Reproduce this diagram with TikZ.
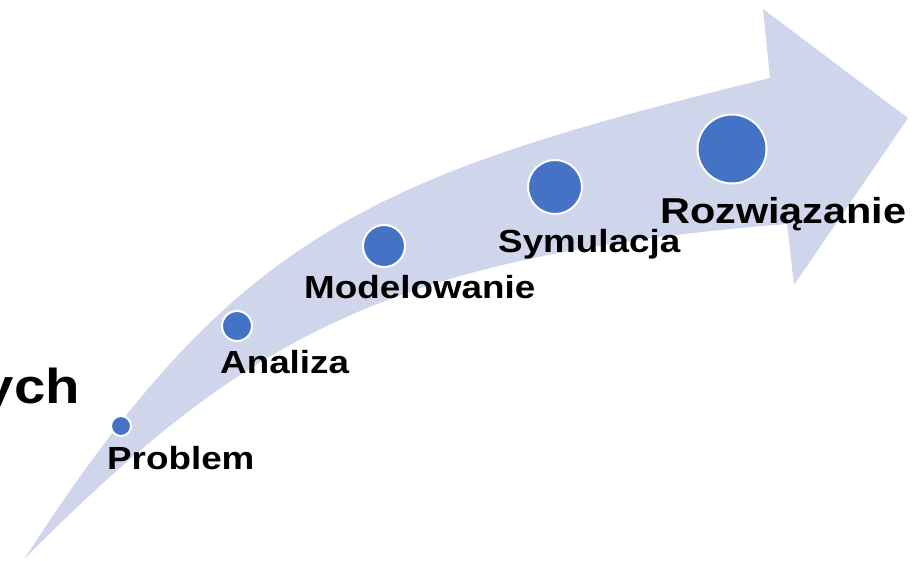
\documentclass[tikz,border=0pt]{standalone}
\usepackage{fontspec}
\setmainfont{Liberation Sans}[FakeStretch=1.15]
\definecolor{bandfill}{HTML}{CFD5EA}
\definecolor{dotfill}{HTML}{4472C4}
\begin{document}
\begin{tikzpicture}[x=1pt,y=-1pt,
  dotnode/.style={circle,fill=dotfill,draw=white,line width=2pt,inner sep=0pt},
  lab/.style={anchor=base west,inner sep=0pt,font=\bfseries\fontsize{32}{38}\selectfont}]
\useasboundingbox (0,0) rectangle (917,560);
% curved arrow band
\fill[bandfill]
  (25,558) .. controls (235,233) and (370,176) .. (770,78)
  -- (763,9) -- (908,118) -- (794,285) -- (787,224)
  .. controls (387,256) and (245,338) .. (25,558)
  -- cycle;
% step markers
\node[dotnode,minimum size=20pt] (d1) at (121,426) {};
\node[dotnode,minimum size=30pt] (d2) at (237,326) {};
\node[dotnode,minimum size=42pt] (d3) at (384,246) {};
\node[dotnode,minimum size=54pt] (d4) at (555,187) {};
\node[dotnode,minimum size=69pt] (d5) at (732,149) {};
% step labels
\node[lab] (l1) at (107,469) {Problem};
\node[lab] (l2) at (220,373) {Analiza};
\node[lab] (l3) at (304,298) {Modelowanie};
\node[lab] (l4) at (498,252) {Symulacja};
\node[lab,font=\bfseries\fontsize{36}{42}\selectfont] (l5) at (660,223) {Rozwiązanie};
% heading fragment
\node[anchor=base east,inner sep=0pt,font=\bfseries\fontsize{49}{56}\selectfont] (head) at (80,403) {ych};
\end{tikzpicture}
\end{document}
